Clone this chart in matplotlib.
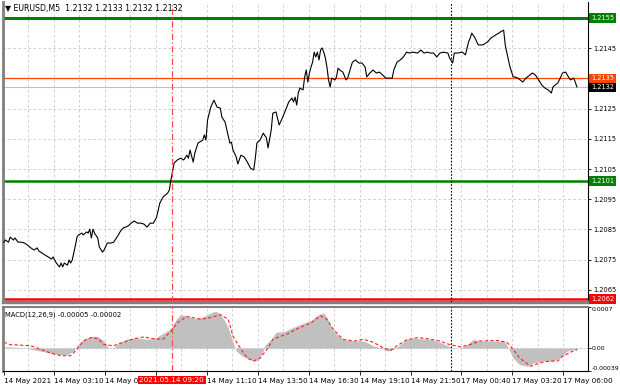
import matplotlib
matplotlib.use('Agg')
import matplotlib.pyplot as plt
import matplotlib.transforms as mtransforms

plt.rcParams['font.family'] = ['DejaVu Sans']
plt.rcParams['font.size'] = 5.2

W, H = 620, 388

# price closes sampled along the EURUSD M5 line (bar index, price)
bar_idx = [0, 1, 3, 4, 6, 7, 9, 11, 13, 15, 17, 19, 21, 22, 24, 26, 28, 30, 31, 33, 35, 36, 37, 38,
           40, 41, 42, 43, 45, 46, 47, 49, 50, 52, 53, 54, 55, 56, 57, 59, 60, 62, 63, 65, 67, 69, 72, 73,
           75, 78, 80, 82, 84, 86, 88, 90, 92, 94, 96, 98, 100, 103, 104, 105, 107, 109, 111, 113,
           115, 116, 117, 119, 120, 122, 125, 126, 127, 128, 130, 132, 134, 136, 137, 139, 141, 142, 143,
           144, 146, 147, 149, 151, 153, 155, 157, 158, 159, 161, 163, 165, 166, 168, 169, 171, 173, 175,
           177, 179, 181, 182, 183, 184, 185, 186, 188, 189, 190, 191, 192, 193, 194, 195, 196, 197, 198,
           199, 200, 201, 202, 203, 204, 205, 206, 208, 209, 210, 211,
           213, 215, 216, 219, 221, 223, 225, 227, 228, 230, 232, 234, 236, 238, 240, 242, 244, 245, 247,
           249, 251, 253, 255, 257, 260, 262, 264, 266, 268, 270, 272, 274, 276, 279, 280, 282, 283, 285,
           288, 290,
           292, 293, 294, 296, 298, 301, 304, 306, 307, 309, 311, 312, 314, 315, 317, 318, 320, 321, 323,
           326, 328, 329, 332, 334, 336, 338, 340, 342, 344, 345, 348, 349, 351, 353, 354, 356, 358, 359, 360]
close = [1.20808, 1.20815, 1.20808, 1.20825, 1.20815, 1.20822, 1.20808, 1.20808, 1.20805, 1.20798,
         1.20789, 1.20782, 1.20789, 1.20779, 1.20772, 1.20765, 1.20759, 1.20752, 1.20759, 1.20739,
         1.20726, 1.20739, 1.20726, 1.20739, 1.20732, 1.20749, 1.20739, 1.20749, 1.20798, 1.20825,
         1.20832, 1.20838, 1.20832, 1.20842, 1.20838, 1.20851, 1.20822, 1.20851, 1.20838, 1.20822,
         1.20792, 1.20775, 1.20782, 1.20805, 1.20805, 1.20808, 1.20832, 1.20842,
         1.20855, 1.20861, 1.20871, 1.20878, 1.20871, 1.20871, 1.20868, 1.20858, 1.20871, 1.20871,
         1.20891, 1.20937, 1.20957, 1.20971, 1.20981, 1.21014, 1.21070, 1.21080, 1.21086, 1.21080,
         1.21096, 1.21086, 1.21113, 1.21073, 1.21103, 1.21136, 1.21146, 1.21163, 1.21146, 1.21212,
         1.21255, 1.21278, 1.21255, 1.21252, 1.21222, 1.21206, 1.21160, 1.21136, 1.21139,
         1.21113, 1.21090, 1.21067, 1.21096, 1.21090, 1.21073, 1.21053, 1.21047, 1.21086, 1.21136,
         1.21146, 1.21169, 1.21153, 1.21120, 1.21179, 1.21235, 1.21239, 1.21196, 1.21219, 1.21245,
         1.21272, 1.21285, 1.21272, 1.21288, 1.21262, 1.21302, 1.21318, 1.21312, 1.21355, 1.21378,
         1.21338, 1.21368, 1.21388, 1.21404, 1.21437, 1.21421, 1.21437, 1.21411, 1.21444, 1.21451,
         1.21437, 1.21418, 1.21388, 1.21345, 1.21322, 1.21351, 1.21345, 1.21355, 1.21384, 1.21378,
         1.21371, 1.21345, 1.21351, 1.21404, 1.21411, 1.21401, 1.21401, 1.21388, 1.21355, 1.21368,
         1.21378, 1.21368, 1.21371, 1.21361, 1.21351, 1.21351, 1.21351, 1.21378, 1.21404, 1.21411,
         1.21421, 1.21437, 1.21434, 1.21437, 1.21434, 1.21444, 1.21434, 1.21437, 1.21434, 1.21434,
         1.21421, 1.21434, 1.21437, 1.21434, 1.21418, 1.21401, 1.21434, 1.21434, 1.21437, 1.21428,
         1.21471, 1.21484, 1.21500, 1.21484, 1.21461, 1.21461, 1.21471, 1.21484, 1.21487, 1.21494,
         1.21500, 1.21504, 1.21510, 1.21461, 1.21411, 1.21388, 1.21355, 1.21355, 1.21351, 1.21338,
         1.21351, 1.21355, 1.21368, 1.21361, 1.21345, 1.21328, 1.21318, 1.21312, 1.21302, 1.21322,
         1.21335, 1.21345, 1.21368, 1.21371, 1.21361, 1.21345, 1.21351, 1.21338, 1.21322]

# MACD(12,26,9) main histogram and signal line
hist_bar = [0, 4, 14, 19, 25, 31, 36, 40, 44, 46, 50, 55, 59, 63, 66, 69, 72, 78, 84, 90, 95,
            100, 105, 108, 111, 115, 120, 125, 130, 133, 136, 139, 141, 144, 146, 149, 153, 157,
            160, 163, 164, 168, 171, 176, 180, 186, 193, 197, 201, 203, 207, 213, 220, 224, 228,
            232, 237, 241, 245, 249, 253, 257, 262, 268, 274, 279, 282, 287, 291, 295, 299, 306,
            312, 315, 317, 320, 324, 329, 333, 339, 345, 349, 354, 358, 360]
hist_val = [0.00002, 0.00002, 0.0, -0.00003, -0.00006, -0.00010, -0.00011, -0.00011, -0.00005,
            0.00005, 0.00015, 0.00020, 0.00020, 0.00012, 0.0, 0.00001, 0.00008, 0.00016, 0.00017,
            0.00015, 0.00017, 0.00025, 0.00033, 0.00048, 0.00057, 0.00055, 0.00050, 0.00053,
            0.00060, 0.00063, 0.00058, 0.00045, 0.00035, 0.00010, -0.00005, -0.00012, -0.00018,
            -0.00022, -0.00020, -0.00005, 0.00005, 0.00015, 0.00027, 0.00028, 0.00033, 0.00040,
            0.00047, 0.00056, 0.00060, 0.00052, 0.00029, 0.00015, 0.00012, 0.00013, 0.00010,
            0.00004, 0.0, -0.00005, -0.00002, 0.00006, 0.00015, 0.00017, 0.00016, 0.00015, 0.00010,
            0.00004, 0.0, 0.0, 0.00006, 0.00015, 0.00012, 0.00012, 0.00012, 0.00010, 0.0, -0.00017,
            -0.00028, -0.00031, -0.00025, -0.00022, -0.00022, -0.00017, -0.00005, -0.00002, -0.00005]
sig_bar = [0, 4, 17, 23, 29, 36, 42, 46, 50, 55, 59, 63, 69, 75, 82, 88, 94, 100, 105, 109, 115,
           124, 130, 136, 141, 144, 149, 153, 157, 161, 166, 169, 178, 186, 193, 199, 203, 207,
           213, 220, 226, 232, 238, 243, 247, 253, 260, 266, 274, 280, 287, 293, 299, 310, 316,
           320, 324, 331, 337, 343, 348, 351, 356, 360]
sig_val = [0.00010, 0.00006, 0.00004, -0.00002, -0.00008, -0.00013, -0.00013, -0.00002, 0.00012,
           0.00018, 0.00016, 0.00006, 0.00004, 0.00010, 0.00016, 0.00019, 0.00016, 0.00015,
           0.00029, 0.00043, 0.00054, 0.00049, 0.00052, 0.00057, 0.00049, 0.00020, -0.00002,
           -0.00017, -0.00022, -0.00017, 0.0, 0.00015, 0.00024, 0.00035, 0.00043, 0.00055,
           0.00049, 0.00032, 0.00015, 0.00012, 0.00015, 0.00010, 0.00001, -0.00004, 0.00004,
           0.00014, 0.00018, 0.00016, 0.00012, 0.00006, 0.00002, 0.00006, 0.00012, 0.00013,
           0.00010, -0.00002, -0.00017, -0.00031, -0.00025, -0.00022, -0.00022, -0.00014,
           -0.00007, -0.00002]

# the 08:30 label sits under the cursor time box, so it is left blank
time_ticks = [0, 31.5, 63.5, 95.5, 127.5, 159.5, 191.5, 223.5, 255.5, 287.5, 319.5, 351.5]
time_labels = ['14 May 2021', '14 May 03:10', '14 May 05:50', '', '14 May 11:10',
               '14 May 13:50', '14 May 16:30', '14 May 19:10', '14 May 21:50', '17 May 00:40',
               '17 May 03:20', '17 May 06:00']
price_ticks = [1.2065, 1.2075, 1.2085, 1.2095, 1.2105, 1.2115, 1.2125, 1.2145]
resistance = 1.2155
support = 1.2101
level_mid = 1.2135
bid = 1.2132
level_low = 1.2062
cursor_bar = 105.5
cursor_label = '2021.05.14 09:20'
day_sep_bar = 281
macd_ticks = [0.0007, 0.00, -0.00039]
macd_tick_labels = ['0.0007', '0.00', '-0.00039']

assert len(bar_idx) == len(close)
assert len(hist_bar) == len(hist_val)
assert len(sig_bar) == len(sig_val)

GRID = '#c8c8c8'
GREEN = '#008000'
ORANGE = '#ff4500'
AXFS = 4.8

fig = plt.figure(figsize=(W / 100, H / 100), dpi=100)
ax = fig.add_axes([3 / W, 1 - 302 / H, 585 / W, 300 / H])
axm = fig.add_axes([3 / W, 1 - 371 / H, 585 / W, 64 / H])

xmax = 367
grid_x = [15.5 + 16 * k for k in range(23)]

# ---- main price window ----
ax.set_xlim(-0.5, xmax)
ax.set_ylim(1.20610, 1.21603)
for gx in grid_x:
    ax.axvline(gx, color=GRID, lw=0.6, ls=(0, (3, 3)), zorder=0)
for gy in price_ticks + [resistance]:
    ax.axhline(gy, color=GRID, lw=0.6, ls=(0, (3, 3)), zorder=0)

ax.axhline(bid, color='#c0c0c0', lw=0.8, zorder=1)
ax.axhline(level_mid, color=ORANGE, lw=0.9, zorder=2)
ax.axhline(resistance, color=GREEN, lw=2.2, zorder=2)
ax.axhline(support, color=GREEN, lw=1.8, zorder=2)
ax.axhline(level_low, color='#ff0000', lw=1.8, zorder=2)
ax.plot(bar_idx, close, color='black', lw=0.8, zorder=3)

ax.axvline(cursor_bar, color='#ff4a4a', lw=0.9, ls=(0, (5, 2, 1, 2)), zorder=4)
ax.axvline(day_sep_bar, color='black', lw=0.8, ls=(0, (1.5, 1.5)), zorder=4)

ax.yaxis.tick_right()
ax.set_yticks(price_ticks)
ax.set_yticklabels(['%.4f' % v for v in price_ticks])
ax.tick_params(axis='y', direction='out', length=2.5, width=0.6, pad=1.5, labelsize=AXFS)
ax.set_xticks([])
ax.spines['top'].set_visible(False)
ax.spines['left'].set_color('#808080')
ax.spines['left'].set_linewidth(2)
ax.spines['right'].set_color('black')
ax.spines['right'].set_linewidth(0.8)
ax.spines['bottom'].set_color('#808080')
ax.spines['bottom'].set_linewidth(2.5)

tr = mtransforms.blended_transform_factory(ax.transAxes, ax.transData)
def level_box(a, trans, y, text, fc, tc='white'):
    a.text(1 + 3 / 585, y, text, transform=trans, ha='left', va='center', color=tc,
           fontsize=AXFS, zorder=10, clip_on=False,
           bbox=dict(boxstyle='square,pad=0.25', fc=fc, ec='none'))

level_box(ax, tr, resistance, '%.4f' % resistance, GREEN)
level_box(ax, tr, level_mid, '%.4f' % level_mid, ORANGE)
level_box(ax, tr, bid, '%.4f' % bid, 'black')
level_box(ax, tr, support, '%.4f' % support, GREEN)
level_box(ax, tr, level_low, '%.4f' % level_low, '#ff0000')

fig.text(5 / W, 1 - 8 / H, '\u25bc EURUSD,M5  1.2132 1.2133 1.2132 1.2132',
         ha='left', va='center', fontsize=5.7)

# ---- MACD window ----
axm.set_xlim(-0.5, xmax)
axm.set_ylim(-0.00039, 0.0007)
for gx in grid_x:
    axm.axvline(gx, color=GRID, lw=0.6, ls=(0, (3, 3)), zorder=0)
axm.axhline(0, color='#b0b0b0', lw=0.6, ls=(0, (2, 2)), zorder=0)
axm.fill_between(hist_bar, hist_val, 0, color='#c0c0c0', lw=0, zorder=1)
axm.plot(sig_bar, sig_val, color='#ff2020', lw=0.8, ls=(0, (3, 2)), zorder=2)
axm.axvline(cursor_bar, color='#ff4a4a', lw=0.9, ls=(0, (5, 2, 1, 2)), zorder=4)
axm.axvline(day_sep_bar, color='black', lw=0.8, ls=(0, (1.5, 1.5)), zorder=4)

axm.text(2 / 585, 0.88, 'MACD(12,26,9) -0.00005 -0.00002', transform=axm.transAxes,
         ha='left', va='center', fontsize=4.9)

axm.yaxis.tick_right()
axm.set_yticks(macd_ticks)
axm.set_yticklabels(macd_tick_labels)
axm.tick_params(axis='y', direction='out', length=2, width=0.6, pad=0.8, labelsize=4.5)
ylabs = axm.get_yticklabels()
ylabs[0].set_verticalalignment('top')
ylabs[2].set_verticalalignment('bottom')

axm.set_xticks(time_ticks)
axm.set_xticklabels(time_labels)
axm.tick_params(axis='x', direction='out', length=3, width=0.6, pad=2, labelsize=5.2)
for lab in axm.get_xticklabels():
    lab.set_horizontalalignment('left')

axm.spines['top'].set_color('#808080')
axm.spines['top'].set_linewidth(1.5)
axm.spines['left'].set_color('#808080')
axm.spines['left'].set_linewidth(2)
axm.spines['right'].set_color('black')
axm.spines['right'].set_linewidth(0.8)
axm.spines['bottom'].set_color('black')
axm.spines['bottom'].set_linewidth(0.8)

trm = mtransforms.blended_transform_factory(axm.transData, axm.transAxes)
axm.text(cursor_bar, -0.14, cursor_label, transform=trm, ha='center', va='center',
         color='white', fontsize=5.2, zorder=10, clip_on=False,
         bbox=dict(boxstyle='square,pad=0.2', fc='#ff0000', ec='none'))

fig.savefig('out.png', dpi=100, facecolor='white')
